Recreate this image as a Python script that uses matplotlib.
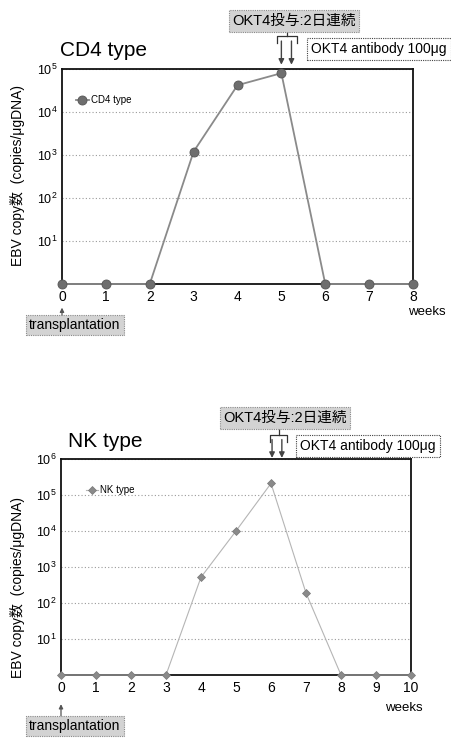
import matplotlib
matplotlib.use("Agg")
import matplotlib.pyplot as plt
from matplotlib.ticker import FixedLocator, NullLocator

plt.rcParams["font.family"] = ["Liberation Sans", "Noto Sans CJK JP", "DejaVu Sans"]
plt.rcParams["mathtext.fontset"] = "custom"
plt.rcParams["mathtext.rm"] = "Liberation Sans"
plt.rcParams["mathtext.it"] = "Liberation Sans"

# ---------- data ----------
cd4_weeks = [0, 1, 2, 3, 4, 5, 6, 7, 8]
cd4_copies = [1, 1, 1, 1200, 42000, 80000, 1, 1, 1]
cd4_yticks = [1e1, 1e2, 1e3, 1e4, 1e5]

nk_weeks = [0, 1, 2, 3, 4, 5, 6, 7, 8, 9, 10]
nk_copies = [1, 1, 1, 1, 520, 10000, 210000, 190, 1, 1, 1]
nk_yticks = [1e1, 1e2, 1e3, 1e4, 1e5, 1e6]

ylabel = "EBV copy数  (copies/μgDNA)"
okt4_jp = "OKT4投与:2日連続"
okt4_en = "OKT4 antibody 100μg"

W, H = 451, 739
fig = plt.figure(figsize=(W / 100, H / 100), dpi=100)


def fx(px):
    return px / W


def fy(py):
    return 1 - py / H


def draw_panel(ax, weeks, copies, yticks, label, line_kw, dose_x, bracket):
    ax.plot(weeks, copies, label=label, clip_on=False, zorder=5, **line_kw)
    ax.set_yscale("log")
    ax.set_xlim(weeks[0], weeks[-1])
    ax.set_ylim(1, yticks[-1])
    ax.yaxis.set_major_locator(FixedLocator(yticks))
    ax.yaxis.set_minor_locator(NullLocator())
    ax.set_yticklabels([f"$10^{{{len(str(int(t))) - 1}}}$" for t in yticks])
    ax.set_xticks(weeks)
    ax.tick_params(axis="both", length=0, labelsize=10, pad=4)
    ax.tick_params(axis="y", labelsize=9, pad=3)
    ax.grid(True, axis="y", linestyle=(0, (1, 2)), color="#9a9a9a", linewidth=0.8)
    ax.set_axisbelow(True)
    for sp in ax.spines.values():
        sp.set_linewidth(1.3)
        sp.set_color("#111111")

    tr = ax.get_xaxis_transform()
    # dosing arrows
    for x in dose_x:
        ax.annotate("", xy=(x, bracket["arrow_end"]), xytext=(x, bracket["arrow_start"]),
                    xycoords=tr, textcoords=tr,
                    arrowprops=dict(arrowstyle="-|>", color="#444444", lw=1.0,
                                    mutation_scale=8, shrinkA=0, shrinkB=0))
    # bracket connecting the two doses to the box
    bl, br, by, bh = bracket["left"], bracket["right"], bracket["y"], bracket["hook"]
    bm = (bl + br) / 2
    ax.plot([bl, bl, br, br], [by - bh, by, by, by - bh], transform=tr,
            color="#333333", lw=0.9, clip_on=False)
    ax.plot([bm, bm], [by, bracket["top"]], transform=tr,
            color="#333333", lw=0.9, clip_on=False)
    # transplantation arrow
    ax.annotate("", xy=(0, bracket["tx_end"]), xytext=(0, bracket["tx_start"]),
                xycoords=tr, textcoords=tr,
                arrowprops=dict(arrowstyle="-|>", color="#555555", lw=0.9,
                                mutation_scale=6, shrinkA=0, shrinkB=0))


# ---------- top panel: CD4 type ----------
ax1 = fig.add_axes([fx(62), fy(284), fx(351), 215 / H])
draw_panel(
    ax1, cd4_weeks, cd4_copies, cd4_yticks, "CD4 type",
    dict(color="#8a8a8a", lw=1.3, marker="o", markersize=6.5,
         markerfacecolor="#6e6e6e", markeredgecolor="#555555", markeredgewidth=0.6),
    dose_x=[5.0, 5.23],
    bracket=dict(left=4.9, right=5.36, y=1.152, hook=0.03, top=1.175,
                 arrow_start=1.13, arrow_end=1.02, tx_start=-0.158, tx_end=-0.11),
)
leg1 = ax1.legend(loc="center left", bbox_to_anchor=(0.04, 0.856), frameon=False,
                  fontsize=7, handlelength=1.3, handletextpad=0.2, borderpad=0,
                  borderaxespad=0)

# ---------- bottom panel: NK type ----------
ax2 = fig.add_axes([fx(61), fy(675), fx(350), 216 / H])
draw_panel(
    ax2, nk_weeks, nk_copies, nk_yticks, "NK type",
    dict(color="#b5b5b5", lw=0.8, marker="D", markersize=4.5,
         markerfacecolor="#8a8a8a", markeredgecolor="#777777", markeredgewidth=0.5),
    dose_x=[6.03, 6.31],
    bracket=dict(left=5.97, right=6.46, y=1.11, hook=0.03, top=1.14,
                 arrow_start=1.09, arrow_end=1.005, tx_start=-0.19, tx_end=-0.135),
)
leg2 = ax2.legend(loc="center left", bbox_to_anchor=(0.07, 0.856), frameon=False,
                  fontsize=7, handlelength=1.3, handletextpad=0.2, borderpad=0,
                  borderaxespad=0)

# ---------- figure texts ----------
gray_box = dict(boxstyle="square,pad=0.25", facecolor="#d3d3d3", edgecolor="#8a8a8a",
                linestyle=(0, (1, 1)), linewidth=0.8)
white_box = dict(boxstyle="square,pad=0.3", facecolor="white", edgecolor="#444444",
                 linestyle=(0, (1, 1)), linewidth=0.8)

fig.text(fx(60), fy(50), "CD4 type", fontsize=15, va="center", ha="left")
fig.text(fx(68), fy(441), "NK type", fontsize=15, va="center", ha="left")

fig.text(fx(294), fy(21), okt4_jp, fontsize=10.5, ha="center", va="center", bbox=gray_box)
fig.text(fx(311), fy(49), okt4_en, fontsize=10, ha="left", va="center", bbox=white_box)
fig.text(fx(285), fy(418), okt4_jp, fontsize=10.5, ha="center", va="center", bbox=gray_box)
fig.text(fx(300), fy(446), okt4_en, fontsize=10, ha="left", va="center", bbox=white_box)

fig.text(fx(75), fy(325), "transplantation", fontsize=10, ha="center", va="center", bbox=gray_box)
fig.text(fx(75), fy(726), "transplantation", fontsize=10, ha="center", va="center", bbox=gray_box)

fig.text(fx(427), fy(312), "weeks", fontsize=9.5, ha="center", va="center")
fig.text(fx(404), fy(708), "weeks", fontsize=9.5, ha="center", va="center")

fig.text(fx(18), fy(176), ylabel, fontsize=10, rotation=90, ha="center", va="center")
fig.text(fx(18), fy(588), ylabel, fontsize=10, rotation=90, ha="center", va="center")

fig.savefig("out.png", dpi=100)
